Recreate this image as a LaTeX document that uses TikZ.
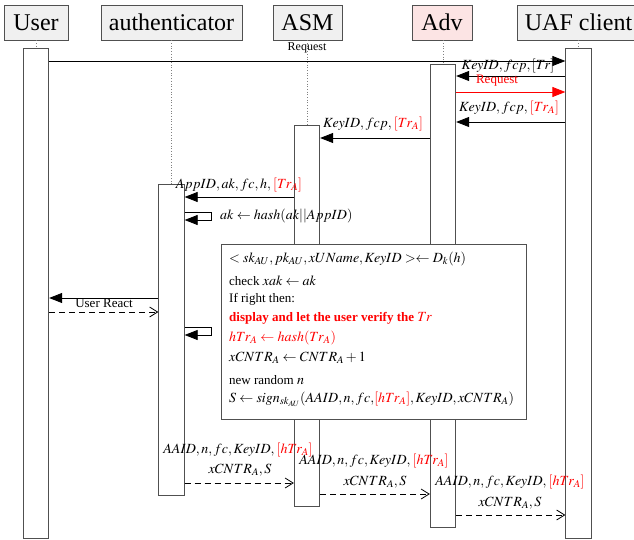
\documentclass[tikz,border=0pt]{standalone}
\usepackage{mathptmx}
\usepackage{fontspec}
\setmainfont{Liberation Serif}
\DeclareMathSizes{13}{14}{10.5}{8}
\usetikzlibrary{arrows.meta}
\definecolor{hdrgray}{RGB}{240,240,240}
\definecolor{advpink}{RGB}{252,228,228}
\definecolor{edge}{RGB}{80,80,80}
\tikzset{
  hdr/.style={draw=edge, line width=0.8pt, fill=hdrgray, minimum height=35pt, inner sep=0pt, font=\fontsize{24}{24}\selectfont},
  act/.style={draw=edge, line width=0.8pt, fill=white, minimum width=25.5pt, anchor=north, inner sep=0pt},
  life/.style={draw=gray, dotted, line width=0.7pt},
  msg/.style={line width=0.8pt, -{Triangle[length=13pt,width=10pt]}},
  ret/.style={line width=0.8pt, dashed, dash pattern=on 6pt off 4pt, -{Straight Barb[length=8pt,width=10pt]}},
  lbl/.style={font=\fontsize{13}{15}\selectfont, inner sep=0pt},
  bx/.style={font=\fontsize{13}{15}\selectfont, inner sep=0pt, anchor=base west},
}
\begin{document}
\begin{tikzpicture}[x=1pt,y=-1pt]
\useasboundingbox (0,0) rectangle (634,540);
\clip (0,0) rectangle (634,540);
% headers
\node[hdr, minimum width=64pt] (hU) at (36,22.5) {User};
\node[hdr, minimum width=141pt] (hA) at (171.5,22.5) {authenticator};
\node[hdr, minimum width=69pt] (hS) at (307.5,22.5) {ASM};
\node[hdr, fill=advpink, minimum width=60pt] (hV) at (442,22.5) {Adv};
\node[hdr, minimum width=123pt] (hC) at (578.5,22.5) {UAF client};
% activation boxes
\node[act, minimum height=490pt] (aU) at (36,48) {};
\node[act, minimum height=311pt] (aA) at (171.5,184) {};
\node[act, minimum height=381pt] (aS) at (307,125) {};
\node[act, minimum height=463pt] (aV) at (443,64) {};
\node[act, minimum height=490pt] (aC) at (578.5,48) {};
% lifelines
\draw[life] (hU.south -| aU.north) -- (aU.north);
\draw[life] (hA.south -| aA.north) -- (aA.north);
\draw[life] (hS.south -| aS.north) -- (aS.north);
\draw[life] (hV.south -| aV.north) -- (aV.north);
\draw[life] (hC.south -| aC.north) -- (aC.north);
% messages
\draw[msg] (aU.east |- 0,61) -- (aC.west |- 0,61);
\node[lbl, font=\fontsize{12}{14}\selectfont] (l1) at (307,48) {Request};
\draw[msg] (aC.west |- 0,76) -- (aV.east |- 0,76);
\node[lbl] (l2) at (508,66) {$KeyID, fcp, [Tr]$};
\draw[msg, red] (aV.east |- 0,92) -- (aC.west |- 0,92);
\node[lbl, text=red] (l3) at (497,81) {Request};
\draw[msg] (aC.west |- 0,122) -- (aV.east |- 0,122);
\node[lbl] (l4) at (509,108) {$KeyID, fcp,$\,\textcolor{red}{$[Tr_A]$}};
\draw[msg] (aV.west |- 0,138) -- (aS.east |- 0,138);
\node[lbl] (l5) at (373,124) {$KeyID, fcp,$\,\textcolor{red}{$[Tr_A]$}};
\draw[msg] (aS.west |- 0,197) -- (aA.east |- 0,197);
\node[lbl] (l6) at (239,185) {$AppID, ak, fc, h,$\,\textcolor{red}{$[Tr_A]$}};
\draw[msg] (aA.east |- 0,212) -- ++(27,0) -- ++(0,8) -- (aA.east |- 0,220);
\node[lbl, anchor=west] (l7) at (220,216) {$ak \leftarrow hash(ak||AppID)$};
% user react
\draw[msg] (aA.west |- 0,298) -- (aU.east |- 0,298);
\node[lbl] (l8) at (104,303) {User React};
\draw[ret] (aU.east |- 0,312) -- (aA.west |- 0,312);
\draw[msg] (aA.east |- 0,327) -- ++(27,0) -- ++(0,8) -- (aA.east |- 0,335);
% big box
\node[draw=edge, line width=0.8pt, fill=white, anchor=north west, minimum width=305pt, minimum height=175pt, inner sep=0pt] (bb) at (221,244) {};
\node[bx] (t1) at (229,262) {$<sk_{AU}, pk_{AU}, xUName, KeyID> \leftarrow D_k(h)$};
\node[bx] (t2) at (229,285) {check $xak \leftarrow ak$};
\node[bx] (t3) at (229,302) {If right then:};
\node[bx, text=red] (t4) at (229,321) {\textbf{display and let the user verify the} $Tr$};
\node[bx, text=red] (t5) at (229,341) {$hTr_A \leftarrow hash(Tr_A)$};
\node[bx] (t6) at (229,361) {$xCNTR_A \leftarrow CNTR_A + 1$};
\node[bx] (t7) at (229,384) {new random $n$};
\node[bx] (t8) at (229,402) {$S \leftarrow sign_{sk_{AU}}(AAID, n, fc,$\textcolor{red}{$[hTr_A]$}$, KeyID, xCNTR_A)$};
% bottom returns
\node[lbl] (b1) at (238,450) {$AAID, n, fc, KeyID,$\,\textcolor{red}{$[hTr_A]$}};
\node[lbl] (b2) at (240,470) {$xCNTR_A, S$};
\draw[ret] (aA.east |- 0,483) -- (aS.west |- 0,483);
\node[lbl] (b3) at (374,461) {$AAID, n, fc, KeyID,$\,\textcolor{red}{$[hTr_A]$}};
\node[lbl] (b4) at (375,482) {$xCNTR_A, S$};
\draw[ret] (aS.east |- 0,494) -- (aV.west |- 0,494);
\node[lbl] (b5) at (510,482) {$AAID, n, fc, KeyID,$\,\textcolor{red}{$[hTr_A]$}};
\node[lbl] (b6) at (510,503) {$xCNTR_A, S$};
\draw[ret] (aV.east |- 0,515) -- (aC.west |- 0,515);
\end{tikzpicture}
\end{document}
